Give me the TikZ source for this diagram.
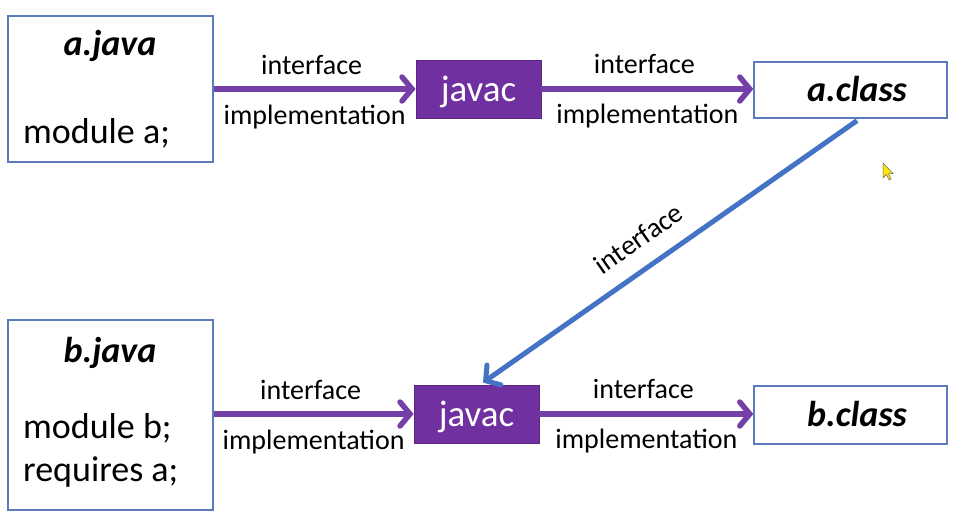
\documentclass[tikz,border=0pt]{standalone}
\usepackage{fontspec}
\setmainfont{Carlito}
\usetikzlibrary{arrows.meta,calc}
\definecolor{boxline}{HTML}{5B7BBE}
\definecolor{jpurple}{HTML}{7030A0}
\definecolor{lpurple}{HTML}{7440A8}
\definecolor{lblue}{HTML}{4472C4}
\tikzset{
  filebox/.style={draw=boxline, line width=1.3pt, fill=white, inner sep=0pt},
  javacbox/.style={draw=jpurple!80!black, line width=0.8pt, fill=jpurple, inner sep=0pt, text=white, minimum width=125pt, minimum height=58pt, text depth=0pt, font=\fontsize{37}{42}\selectfont},
  titletext/.style={inner sep=0pt, anchor=base, font=\fontsize{36}{42}\selectfont\bfseries\itshape},
  bodytext/.style={inner sep=0pt, anchor=base west, font=\fontsize{36}{42}\selectfont},
  lbl/.style={inner sep=0pt, anchor=base, font=\fontsize{28}{33}\selectfont},
  flow/.style={draw=lpurple, line width=5.5pt, -{Straight Barb[length=10pt,width=24pt,line cap=round]}},
  dep/.style={draw=lblue, line width=5pt, -{Straight Barb[length=10pt,width=24pt,line cap=round]}},
}
\begin{document}
\begin{tikzpicture}[x=1pt,y=-1pt]
\useasboundingbox (0,0) rectangle (966,517);
\fill[white] (0,0) rectangle (966,517);
% boxes
\node[filebox, minimum width=205pt, minimum height=146pt] (ajava) at (110.5,89) {};
\node[javacbox] (javacA) at (478.5,89) {javac};
\node[filebox, minimum width=193pt, minimum height=56pt] (aclass) at (850.5,90) {};
\node[filebox, minimum width=205pt, minimum height=190pt] (bjava) at (110.5,415) {};
\node[javacbox] (javacB) at (476.5,414) {javac};
\node[filebox, minimum width=193pt, minimum height=58pt] (bclass) at (850.5,415) {};
% texts
\node[titletext] (ajavat) at (110,55) {a.java};
\node[bodytext] (ajavab) at (23,143) {module a;};
\node[titletext] (aclasst) at (857,101) {a.class};
\node[titletext] (bjavat) at (110,362) {b.java};
\node[bodytext] (bjavab1) at (23,438) {module b;};
\node[bodytext] (bjavab2) at (23,481) {requires a;};
\node[titletext] (bclasst) at (857,426) {b.class};
% connectors
\draw[flow] (javacA.west -| ajava.east) -- (javacA.west)
  node[lbl, midway, xshift=-3pt, yshift=15pt] (l1a) {interface}
  node[lbl, midway, yshift=-35pt] (l1b) {implementation};
\draw[flow] (javacA.east) -- (javacA.east -| aclass.west)
  node[lbl, midway, xshift=-3pt, yshift=16pt] (l2a) {interface}
  node[lbl, midway, yshift=-34pt] (l2b) {implementation};
\draw[flow] (javacB.west -| bjava.east) -- (javacB.west)
  node[lbl, midway, xshift=-3pt, yshift=15pt] (l3a) {interface}
  node[lbl, midway, yshift=-35pt] (l3b) {implementation};
\draw[flow] (javacB.east) -- (javacB.east -| bclass.west)
  node[lbl, midway, xshift=-3pt, yshift=16pt] (l4a) {interface}
  node[lbl, midway, yshift=-34pt] (l4b) {implementation};
\coordinate (dstart) at ($(aclass.south)+(6.5,2)$);
\coordinate (dend) at ($(javacB.north)+(6.5,-2)$);
\draw[dep] (dstart) -- (dend)
  node[pos=0.54, sloped, inner sep=0pt, anchor=center, yshift=29pt, font=\fontsize{28}{33}\selectfont] (l5) {interface};
% mouse pointer
\draw[fill=yellow!90!orange, draw=black!60, line width=0.5pt]
  (883,163) -- (883,178) -- (886.5,174.5) -- (889,180) -- (891,179) -- (888.5,173.5) -- (893,173.5) -- cycle;
\end{tikzpicture}
\end{document}
